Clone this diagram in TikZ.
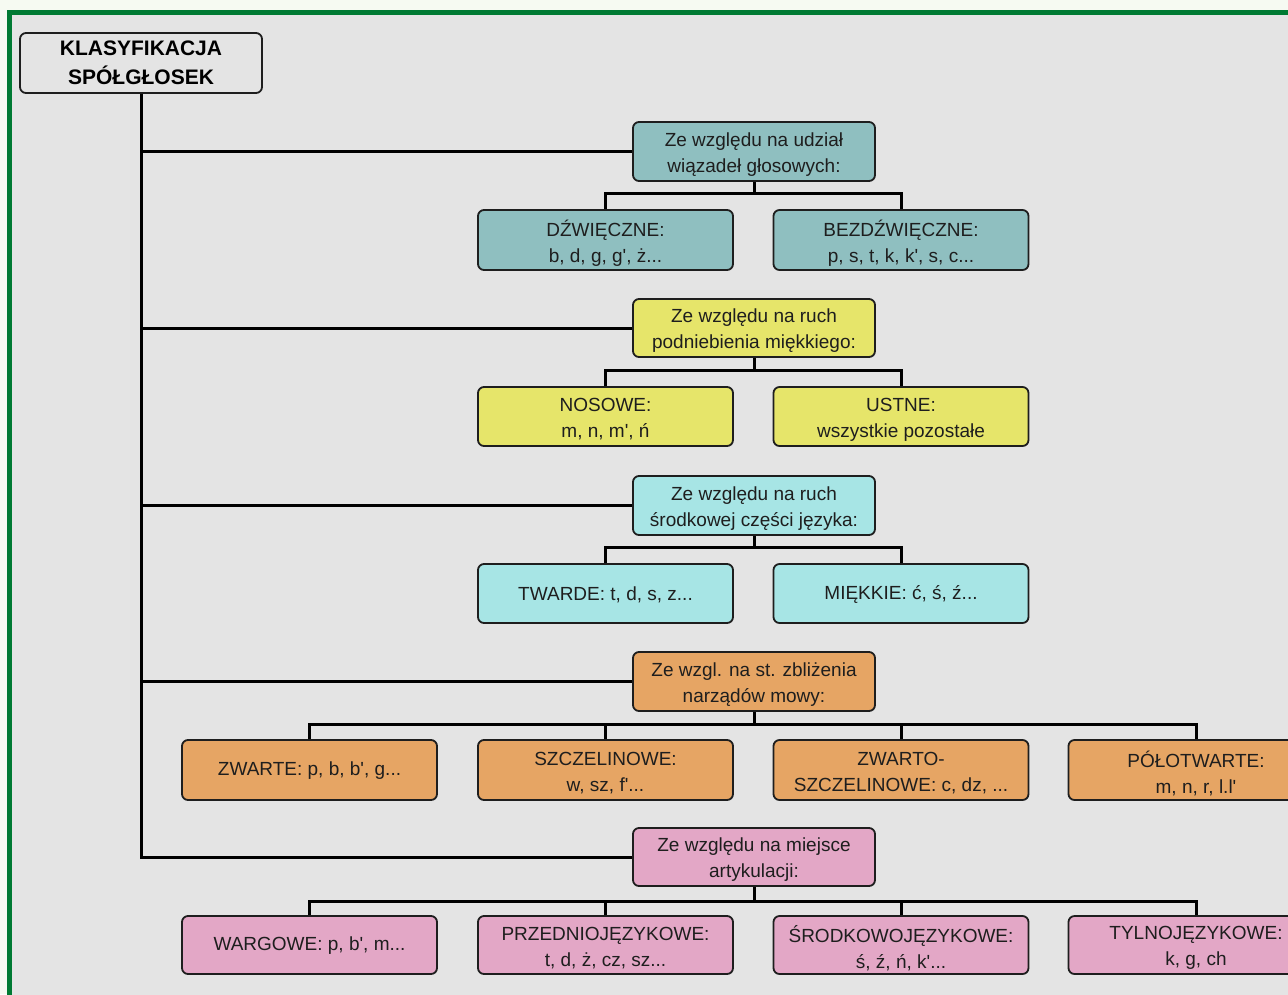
\documentclass[tikz,border=0pt]{standalone}
\usepackage{fontspec}
\newfontfamily\lib{Liberation Sans}
\definecolor{bg}{HTML}{E4E4E4}
\definecolor{outside}{HTML}{F6FAF2}
\definecolor{frame}{HTML}{007A33}
\definecolor{cteal}{HTML}{8FBFC0}
\definecolor{cyel}{HTML}{E6E56A}
\definecolor{ccyan}{HTML}{A7E5E5}
\definecolor{corange}{HTML}{E6A564}
\definecolor{cpink}{HTML}{E3A7C6}
\definecolor{ink}{HTML}{1E1E1E}
\tikzset{
  box/.style={draw=ink, line width=1.8pt, rounded corners=6pt, align=center,
    inner sep=0pt, text=ink, font=\lib\fontsize{19}{26}\selectfont},
  lbl/.style={align=center, inner sep=0pt, text=ink, yshift=-3pt,
    font=\lib\fontsize{19}{26}\selectfont},
  parent/.style={box, minimum width=242pt, minimum height=59pt},
  child/.style={box, minimum width=255pt, minimum height=60pt},
  link/.style={draw=black, line width=3pt},
}
\begin{document}
\begin{tikzpicture}[x=1pt,y=-1pt]
\useasboundingbox (0,0) rectangle (1288,994);
\clip (0,0) rectangle (1288,994);
\fill[outside] (0,0) rectangle (1288,994);
\fill[frame] (7,10) rectangle (1300,1010);
\fill[bg] (12,15) rectangle (1300,1010);

% title
\node[box, fill=bg, minimum width=242pt, minimum height=60pt,
  font=\lib\bfseries\fontsize{21}{29}\selectfont, text=black] (T) at (141,63)
  {KLASYFIKACJA\\SPÓŁGŁOSEK};

% parents
\node[parent, fill=cteal, label={[lbl]center:{Ze względu na udział\\wiązadeł głosowych:}}] (P1) at (754,151.5) {};
\node[parent, fill=cyel, minimum height=58pt, label={[lbl]center:{Ze względu na ruch\\podniebienia miękkiego:}}] (P2) at (754,328) {};
\node[parent, fill=ccyan, label={[lbl]center:{Ze względu na ruch\\środkowej części języka:}}] (P3) at (754,505.5) {};
\node[parent, fill=corange, label={[lbl]center:{Ze wzgl. na st. zbliżenia\\narządów mowy:}}] (P4) at (754,681.5) {};
\node[parent, fill=cpink, minimum height=58pt, label={[lbl]center:{Ze względu na miejsce\\artykulacji:}}] (P5) at (754,857) {};

% children
\node[child, fill=cteal, label={[lbl]center:{DŹWIĘCZNE:\\b, d, g, g', ż...}}] (C1a) at (605.5,240) {};
\node[child, fill=cteal, label={[lbl]center:{BEZDŹWIĘCZNE:\\p, s, t, k, k', s, c...}}] (C1b) at (901,240) {};
\node[child, fill=cyel, minimum height=59pt, label={[lbl]center:{NOSOWE:\\m, n, m', ń}}] (C2a) at (605.5,416.5) {};
\node[child, fill=cyel, minimum height=59pt, label={[lbl]center:{USTNE:\\wszystkie pozostałe}}] (C2b) at (901,416.5) {};
\node[child, fill=ccyan, minimum height=59pt, label={[lbl, yshift=2pt]center:{TWARDE: t, d, s, z...}}] (C3a) at (605.5,593.5) {};
\node[child, fill=ccyan, minimum height=59pt, label={[lbl, yshift=2pt]center:{MIĘKKIE: ć, ś, ź...}}] (C3b) at (901,593.5) {};
\node[child, fill=corange, label={[lbl, yshift=2pt]center:{ZWARTE: p, b, b', g...}}] (C4a) at (309.5,770) {};
\node[child, fill=corange, label={[lbl]center:{SZCZELINOWE:\\w, sz, f'...}}] (C4b) at (605.5,770) {};
\node[child, fill=corange, label={[lbl]center:{ZWARTO-\\SZCZELINOWE: c, dz, ...}}] (C4c) at (901,770) {};
\node[child, fill=corange, label={[lbl]center:{PÓŁOTWARTE:\\m, n, r, l.l'}}] (C4d) at (1196,770) {};
\node[child, fill=cpink, minimum height=58pt, label={[lbl, yshift=2pt]center:{WARGOWE: p, b', m...}}] (C5a) at (309.5,945) {};
\node[child, fill=cpink, minimum height=58pt, label={[lbl]center:{PRZEDNIOJĘZYKOWE:\\t, d, ż, cz, sz...}}] (C5b) at (605.5,945) {};
\node[child, fill=cpink, minimum height=58pt, label={[lbl]center:{ŚRODKOWOJĘZYKOWE:\\ś, ź, ń, k'...}}] (C5c) at (901,945) {};
\node[child, fill=cpink, minimum height=58pt, label={[lbl]center:{TYLNOJĘZYKOWE:\\k, g, ch}}] (C5d) at (1196,945) {};

% trunk and branches
\draw[link] (T.south) -- (T.south |- P5.west) -- (P5.west);
\foreach \p in {P1,P2,P3,P4}
  \draw[link] (T.south |- \p.west) -- (\p.west);

% buses
\foreach \c in {C1a,C1b} \draw[link] (\c.north) -- ++(0,-16) -| (P1.south);
\foreach \c in {C2a,C2b} \draw[link] (\c.north) -- ++(0,-16) -| (P2.south);
\foreach \c in {C3a,C3b} \draw[link] (\c.north) -- ++(0,-16) -| (P3.south);
\foreach \c in {C4a,C4b,C4c,C4d} \draw[link] (\c.north) -- ++(0,-15) -| (P4.south);
\foreach \c in {C5a,C5b,C5c,C5d} \draw[link] (\c.north) -- ++(0,-14) -| (P5.south);
\end{tikzpicture}
\end{document}
